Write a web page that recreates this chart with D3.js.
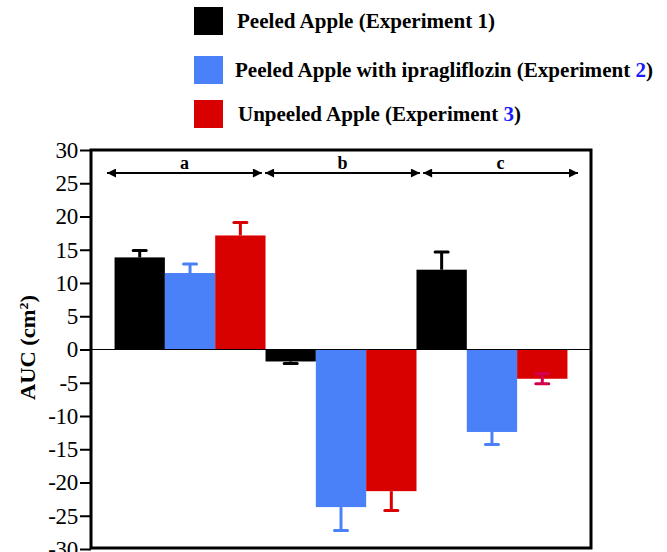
<!DOCTYPE html>
<html><head><meta charset="utf-8">
<script src="https://cdn.jsdelivr.net/npm/d3@7"></script>
<style>body{margin:0;background:#fff}svg{display:block}text{font-family:"Liberation Serif","Times New Roman",serif}</style>
</head><body>
<svg id="c" width="667" height="552"></svg>
<script>
const groups = ["a", "b", "c"];
const seriesNames = ["Peeled Apple (Experiment 1)", "Peeled Apple with ipragliflozin (Experiment 2)", "Unpeeled Apple (Experiment 3)"];
const exp1 = [13.85, -1.8, 12.0];
const err1 = [1.05, 0.3, 2.65];
const exp2 = [11.5, -23.7, -12.4];
const err2 = [1.35, 3.5, 1.9];
const exp3 = [17.15, -21.3, -4.4];
const err3 = [1.95, 2.9, 0.75];
const twoSided3 = [false, false, true];
const yTicks = [30, 25, 20, 15, 10, 5, 0, -5, -10, -15, -20, -25, -30];

const colors = ["#000000", "#4a80f8", "#d90000"];
const errColors = ["#000000", "#4a80f8", "#d90000"];
const errColorTwoSided = "#d2004e";

const svg = d3.select("#c");
const L = 91, R = 591, T = 150, B = 549;
const y = d3.scaleLinear().domain([-30, 30]).range([B, T]);
const x0 = d3.scaleBand().domain(groups).range([L, R]).paddingInner(0).paddingOuter(0.156);
const x1 = d3.scaleBand().domain([0, 1, 2]).range([0, x0.bandwidth()]);

const vals = [exp1, exp2, exp3];
const errs = [err1, err2, err3];
const data = [];
groups.forEach((g, gi) => {
  [0, 1, 2].forEach(si => {
    data.push({g, si, v: vals[si][gi], e: errs[si][gi], both: si === 2 && twoSided3[gi]});
  });
});

// bars
svg.append("g").selectAll("rect").data(data).join("rect")
  .attr("x", d => x0(d.g) + x1(d.si))
  .attr("width", x1.bandwidth())
  .attr("y", d => y(Math.max(0, d.v)))
  .attr("height", d => Math.abs(y(d.v) - y(0)))
  .attr("fill", d => colors[d.si]);

// error bars
const eg = svg.append("g");
data.forEach(d => {
  const cx = x0(d.g) + x1(d.si) + x1.bandwidth() / 2;
  const col = d.both ? errColorTwoSided : errColors[d.si];
  const ends = d.both ? [d.v + d.e, d.v - d.e] : [d.v + Math.sign(d.v) * d.e];
  const top = Math.max(...ends, d.v), bot = Math.min(...ends, d.v);
  eg.append("line").attr("x1", cx).attr("x2", cx).attr("y1", y(top)).attr("y2", y(bot))
    .attr("stroke", col).attr("stroke-width", 3);
  ends.forEach(e => {
    eg.append("line").attr("x1", cx - 6.5).attr("x2", cx + 6.5).attr("y1", y(e)).attr("y2", y(e))
      .attr("stroke", col).attr("stroke-width", 3).attr("stroke-linecap", "round");
  });
});

// zero line
svg.append("line").attr("x1", L).attr("x2", R).attr("y1", y(0)).attr("y2", y(0))
  .attr("stroke", "#000").attr("stroke-width", 1.2);

// frame
svg.append("rect").attr("x", L).attr("y", T).attr("width", R - L).attr("height", B - 1 - T)
  .attr("fill", "none").attr("stroke", "#000").attr("stroke-width", 3);

// y axis
const ya = svg.append("g").attr("transform", `translate(${L},0)`)
  .call(d3.axisLeft(y).tickValues(yTicks).tickSize(11).tickPadding(2).tickFormat(d => d));
ya.select(".domain").remove();
ya.selectAll(".tick line").attr("stroke-width", 2);
ya.selectAll(".tick text").attr("font-size", 23).attr("font-family", "Liberation Serif, serif")
  .attr("letter-spacing", "-0.3").attr("fill", "#000");

// y title
svg.append("text").attr("transform", `translate(35,${y(0) - 2}) rotate(-90)`)
  .attr("text-anchor", "middle").attr("font-size", 21).attr("font-weight", "bold")
  .attr("textLength", 105).attr("lengthAdjust", "spacingAndGlyphs")
  .html('AUC (cm<tspan dy="-7" font-size="13">2</tspan><tspan dy="7">)</tspan>');

// arrows
const defs = svg.append("defs");
defs.append("marker").attr("id", "ah").attr("viewBox", "0 0 10 10").attr("refX", 10).attr("refY", 5)
  .attr("markerWidth", 5.5).attr("markerHeight", 4.5).attr("markerUnits", "strokeWidth").attr("orient", "auto-start-reverse")
  .append("path").attr("d", "M0,0 L10,5 L0,10 Z").attr("fill", "#000");
const xa = d3.scaleBand().domain(groups).range([L + 16, R - 13]).paddingInner(0.02);
const ay = 173;
groups.forEach(g => {
  svg.append("line").attr("x1", xa(g)).attr("x2", xa(g) + xa.bandwidth()).attr("y1", ay).attr("y2", ay)
    .attr("stroke", "#000").attr("stroke-width", 2)
    .attr("marker-start", "url(#ah)").attr("marker-end", "url(#ah)");
  svg.append("text").attr("x", xa(g) + xa.bandwidth() / 2).attr("y", ay - 4)
    .attr("text-anchor", "middle").attr("font-size", 18).attr("font-weight", "bold").text(g);
});

// legend
const legY = [21, 70, 114];
const legW = [258, 418, 283];
const legX = [237, 235, 238];
const lg = svg.append("g");
seriesNames.forEach((name, i) => {
  lg.append("rect").attr("x", 194).attr("y", legY[i] - 14).attr("width", 29).attr("height", 28)
    .attr("fill", colors[i]);
  const t = lg.append("text").attr("x", legX[i]).attr("y", legY[i] + 6.5).attr("font-size", 20)
    .attr("font-weight", "bold").attr("fill", "#000")
    .attr("textLength", legW[i]).attr("lengthAdjust", "spacingAndGlyphs");
  const m = name.match(/^(.*Experiment )(\d)(\))$/);
  if (i === 0) { t.text(name); }
  else {
    t.append("tspan").text(m[1]);
    t.append("tspan").attr("fill", "#1a1aff").text(m[2]);
    t.append("tspan").text(m[3]);
  }
});
</script>
</body></html>
